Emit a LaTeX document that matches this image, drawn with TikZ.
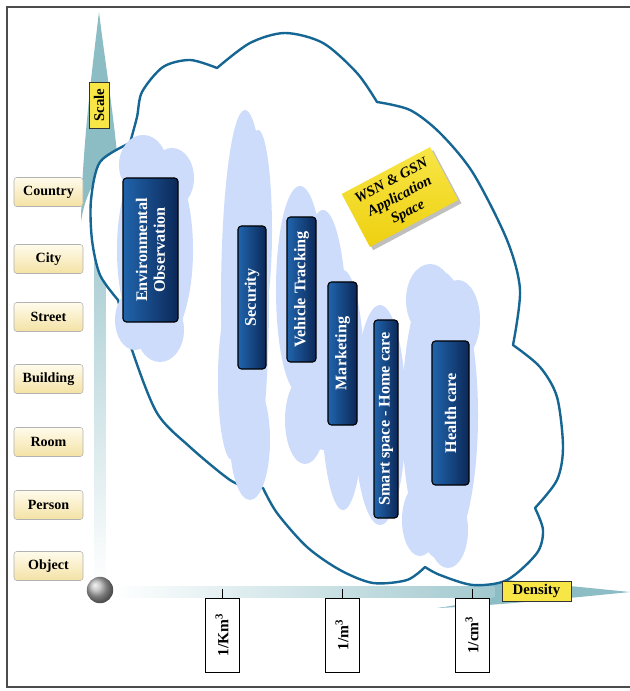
\documentclass[tikz,border=0pt]{standalone}
\usepackage{fontspec}
\setmainfont{Liberation Serif}
\usetikzlibrary{shadows}

\definecolor{axisteal}{RGB}{140,189,197}
\definecolor{bandteal}{RGB}{160,200,206}
\definecolor{cloudblue}{RGB}{205,220,251}
\definecolor{cloudedge}{RGB}{22,102,148}
\definecolor{boxdark}{RGB}{12,40,88}
\definecolor{boxlight}{RGB}{32,100,172}
\definecolor{tagyellow}{RGB}{248,230,70}
\definecolor{tagdeep}{RGB}{238,208,16}
\definecolor{labeltop}{RGB}{255,251,236}
\definecolor{labelbot}{RGB}{244,226,164}

\tikzset{
  scalelabel/.style={draw=gray!60, rounded corners=2pt, top color=labeltop,
    bottom color=labelbot, minimum width=1.725cm, minimum height=0.725cm,
    font=\fontsize{10}{12}\selectfont\bfseries},
  app/.style={draw=black, line width=0.8pt, rounded corners=2.5pt, rotate=90,
    left color=boxlight, right color=boxdark, text=white, align=center,
    inner sep=1pt, font=\fontsize{11.5}{12.5}\selectfont\bfseries},
  unitbox/.style={draw, fill=white, rotate=90, minimum width=1.85cm,
    minimum height=0.85cm, font=\fontsize{11}{13}\selectfont\bfseries},
  axislabel/.style={draw=black!80, fill=tagyellow, inner sep=1pt,
    minimum height=0.5cm, font=\fontsize{10.5}{12}\selectfont\bfseries},
  cloudline/.style={draw=cloudedge, line width=1.7pt, line join=round}
}

\begin{document}
\begin{tikzpicture}[x=0.025cm,y=-0.025cm]
\useasboundingbox (0,0) rectangle (630,691);

% frame
\draw[gray!60!black, line width=1.5pt] (630,7) -- (7,7) -- (7,687) -- (630,687);

% axes
\shade[top color=bandteal, bottom color=white] (94.5,215) rectangle (105.5,585);
\shade[left color=white, right color=bandteal] (112,586) rectangle (500,597);
\fill[axisteal] (99,12) .. controls (106,70) and (118,140) .. (121,205)
  .. controls (112,190) and (104,180) .. (100,172)
  .. controls (92,185) and (84,200) .. (81,222)
  .. controls (82,150) and (92,70) .. cycle;
\fill[axisteal] (630,592) .. controls (570,586) and (490,578) .. (437,574)
  .. controls (465,580) and (485,584) .. (495,587) -- (495,597)
  .. controls (485,600) and (465,604) .. (437,608)
  .. controls (490,606) and (570,598) .. cycle;

% application space
\draw[cloudline, fill=white]
  plot[smooth] coordinates {(130,143) (137,117) (142,92) (163,67) (190,60) (217,68)}
  -- plot[smooth] coordinates {(217,68) (250,43) (285,33) (323,43) (357,73) (377,102)}
  -- plot[smooth] coordinates {(377,102) (410,110) (440,133) (473,173) (507,240) (520,290) (513,345)}
  -- plot[smooth] coordinates {(513,345) (540,367) (557,397) (563,447) (557,480) (535,508)}
  -- plot[smooth] coordinates {(535,508) (543,530) (537,553) (507,580) (473,585) (440,575) (425,567)}
  -- plot[smooth] coordinates {(425,567) (407,580) (373,583) (340,570) (307,547) (277,513) (263,488)}
  -- (250,488)
  -- plot[smooth] coordinates {(250,488) (230,480) (190,447) (157,413) (132,350) (118,300)}
  -- plot[smooth] coordinates {(118,300) (100,275) (92,240) (91,200) (100,162) (130,143)}
  -- cycle;

% light clouds behind the boxes
\fill[cloudblue] (155,250) ellipse [x radius=0.95cm, y radius=2.5cm];
\fill[cloudblue] (143,165) ellipse [x radius=0.6cm, y radius=0.75cm];
\fill[cloudblue] (172,178) ellipse [x radius=0.55cm, y radius=0.75cm];
\fill[cloudblue] (135,320) ellipse [x radius=0.5cm, y radius=0.75cm];
\fill[cloudblue] (160,330) ellipse [x radius=0.6cm, y radius=0.8cm];

\fill[cloudblue] (245,300) ellipse [x radius=0.6cm, y radius=4.75cm];
\fill[cloudblue] (258,230) ellipse [x radius=0.35cm, y radius=2.5cm];
\fill[cloudblue] (250,440) ellipse [x radius=0.5cm, y radius=1.5cm];
\fill[cloudblue] (232,380) ellipse [x radius=0.35cm, y radius=2cm];

\fill[cloudblue] (300,290) ellipse [x radius=0.6cm, y radius=2.6cm];
\fill[cloudblue] (323,330) ellipse [x radius=0.6cm, y radius=3cm];
\fill[cloudblue] (343,390) ellipse [x radius=0.55cm, y radius=3cm];
\fill[cloudblue] (305,420) ellipse [x radius=0.5cm, y radius=1.1cm];

\fill[cloudblue] (380,415) ellipse [x radius=0.65cm, y radius=2.75cm];

\fill[cloudblue] (440,415) ellipse [x radius=0.95cm, y radius=3.6cm];
\fill[cloudblue] (430,300) ellipse [x radius=0.6cm, y radius=0.9cm];
\fill[cloudblue] (458,320) ellipse [x radius=0.55cm, y radius=1cm];
\fill[cloudblue] (420,520) ellipse [x radius=0.45cm, y radius=0.9cm];
\fill[cloudblue] (448,530) ellipse [x radius=0.5cm, y radius=0.95cm];

% applications
\node[app, minimum width=3.6cm, minimum height=1.375cm] (env) at (150.5,250) {Environmental\\Observation};
\node[app, minimum width=3.575cm, minimum height=0.7cm] (sec) at (252,297.5) {Security};
\node[app, minimum width=3.625cm, minimum height=0.725cm] (veh) at (301.5,289.5) {Vehicle Tracking};
\node[app, minimum width=3.575cm, minimum height=0.725cm] (mkt) at (342.5,353.5) {Marketing};
\node[app, minimum width=4.95cm, minimum height=0.6cm] (smart) at (386,419) {Smart space - Home care};
\node[app, minimum width=3.6cm, minimum height=0.925cm] (health) at (450.5,413) {Health care};

\node[rotate=28, top color=tagyellow, bottom color=tagdeep, drop shadow,
  minimum width=2.5cm, minimum height=1.5cm, align=center, inner sep=1pt,
  font=\fontsize{10.5}{12.5}\selectfont\bfseries\itshape] (wsn) at (400,197)
  {WSN \& GSN\\Application\\Space};

% scale axis
\node[axislabel, rotate=90, minimum width=1.15cm] (scale) at (99,105) {Scale};
\node[scalelabel] (country) at (48.5,192) {Country};
\node[scalelabel] (city) at (48.5,259) {City};
\node[scalelabel] (street) at (48.5,317) {Street};
\node[scalelabel] (building) at (48.5,379) {Building};
\node[scalelabel] (room) at (48.5,442) {Room};
\node[scalelabel] (person) at (48.5,505) {Person};
\node[scalelabel] (object) at (48.5,566) {Object};

% density axis
\node[circle, shading=ball, ball color=gray!60, minimum size=0.66cm, inner sep=0pt] (origin) at (100,590) {};
\node[axislabel, minimum width=1.725cm] (density) at (536.5,591) {Density};
\node[unitbox] (km) at (222,635) {1/Km\textsuperscript{3}};
\node[unitbox] (m) at (342,635) {1/m\textsuperscript{3}};
\node[unitbox] (cm) at (472,635) {1/cm\textsuperscript{3}};
\coordinate (kmtick) at (222,589);
\coordinate (mtick) at (342,589);
\coordinate (cmtick) at (472,589);
\draw (kmtick) -- (km.east);
\draw (mtick) -- (m.east);
\draw (cmtick) -- (cm.east);
\end{tikzpicture}
\end{document}
